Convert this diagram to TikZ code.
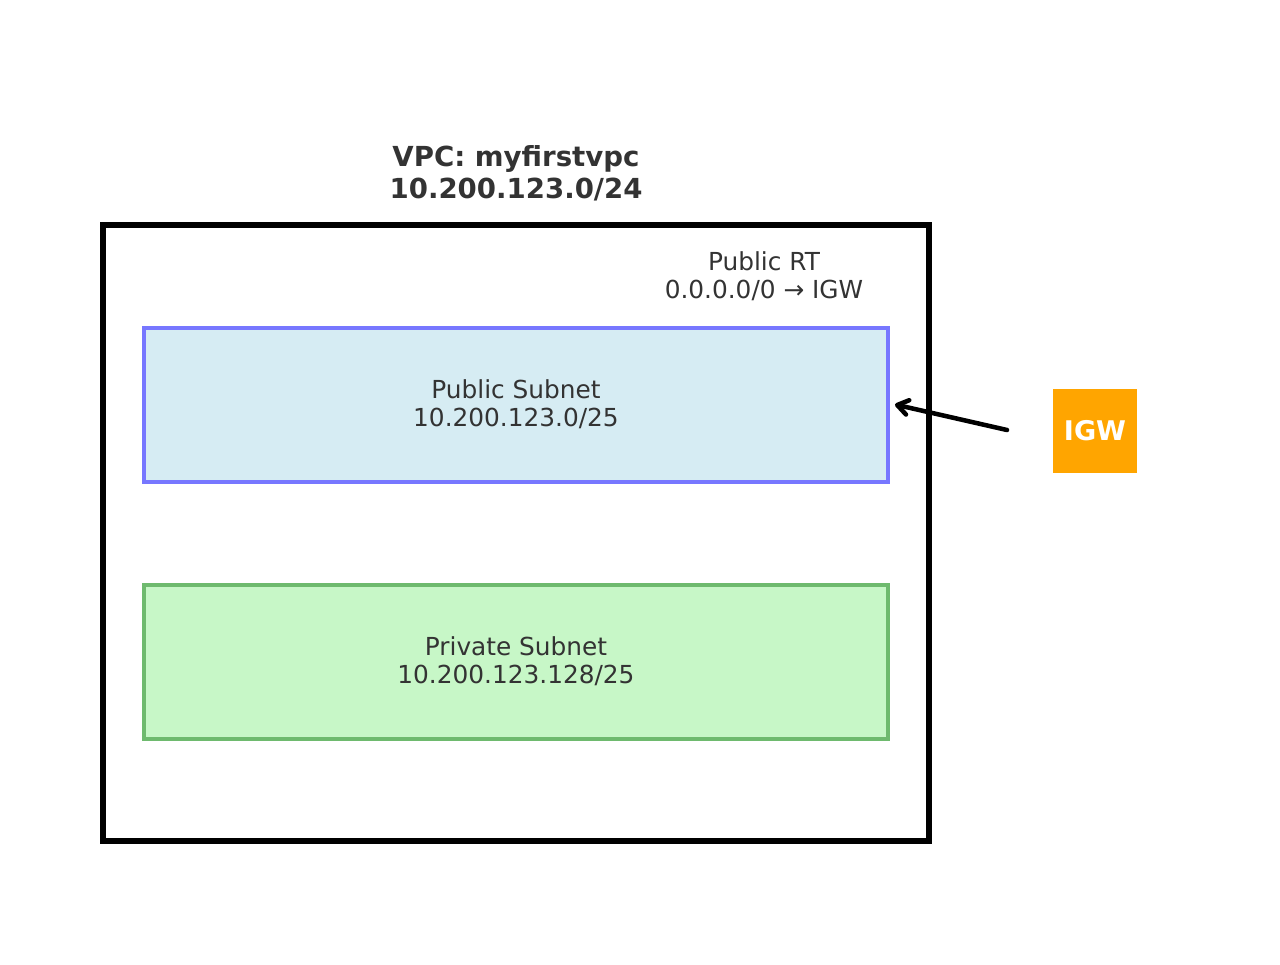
\documentclass[tikz,border=0pt]{standalone}
\usepackage{fontspec}
\setmainfont{DejaVu Sans}
\usetikzlibrary{arrows.meta}
\definecolor{txt}{RGB}{51,51,51}
\definecolor{pubfill}{RGB}{214,236,243}
\definecolor{pubedge}{RGB}{119,119,255}
\definecolor{privfill}{RGB}{199,247,199}
\definecolor{privedge}{RGB}{110,186,110}
\definecolor{igworange}{RGB}{255,165,0}
\tikzset{
  px/.style={x=0.75pt,y=-0.75pt},
  lbl/.style={text=txt,align=center,inner sep=0pt,font=\fontsize{18.6}{21}\selectfont},
  ttl/.style={text=txt,align=center,inner sep=0pt,font=\fontsize{20.7}{24}\selectfont\bfseries},
  subnet/.style={draw,line width=2.9pt},
}
\begin{document}
\begin{tikzpicture}[px]
\useasboundingbox (0,0) rectangle (1280,964);
% VPC box
\draw[line width=3.9pt,line join=miter] (103,225) rectangle (929,841);
\node[ttl] (title) at (516,173.5) {VPC: myfirstvpc\\10.200.123.0/24};
\node[lbl] (rt) at (764,276) {Public RT\\0.0.0.0/0 → IGW};
% subnets
\draw[subnet,draw=pubedge,fill=pubfill] (144,328) rectangle (888,482);
\node[lbl] (pub) at (516,404) {Public Subnet\\10.200.123.0/25};
\draw[subnet,draw=privedge,fill=privfill] (144,585) rectangle (888,739);
\node[lbl] (priv) at (516,661) {Private Subnet\\10.200.123.128/25};
% IGW
\node[fill=igworange,minimum width=63pt,minimum height=63pt,inner sep=0pt,text=white,font=\fontsize{20.3}{24}\selectfont\bfseries] (igw) at (1095,431) {IGW};
\coordinate (arrstart) at (1007,430);
\coordinate (arrend) at (895,404.5);
\draw[line width=3.4pt,line cap=round,-{Straight Barb[length=8pt,width=11pt,line width=3.4pt,round]}] (arrstart) -- (arrend);
\end{tikzpicture}
\end{document}
